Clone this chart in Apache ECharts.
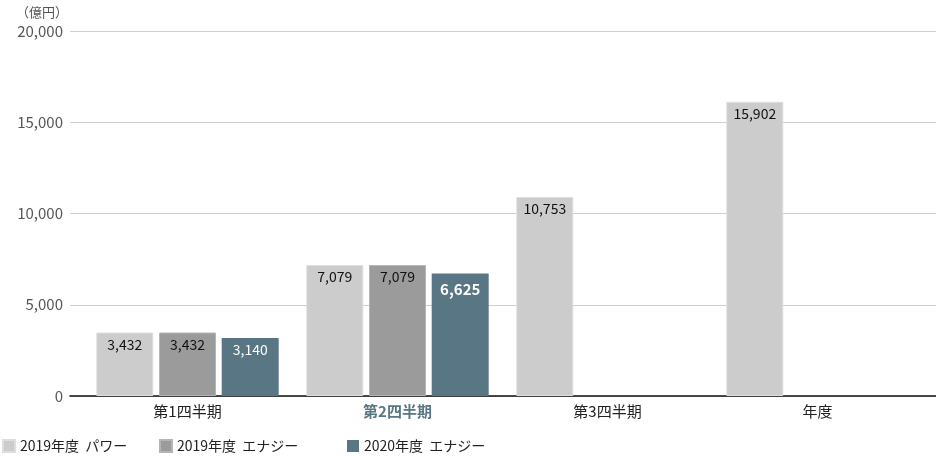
<!DOCTYPE html>
<html>
<head>
<meta charset="utf-8">
<script src="https://cdn.jsdelivr.net/npm/echarts@6/dist/echarts.min.js"></script>
<style>
  html, body { margin: 0; padding: 0; background: #fff; }
  #container { width: 936px; height: 456px; }
</style>
</head>
<body>
<div id="container"></div>
<script>
// data
var categories = ['第1四半期', '第2四半期', '第3四半期', '年度'];
var seriesNames = ['2019年度  パワー', '2019年度  エナジー', '2020年度  エナジー'];
var power2019 = [3432, 7079, 10753, 15902];
var energy2019 = [3432, 7079, null, null];
var energy2020 = [3140, 6625, null, null];
var yTicks = [0, 5000, 10000, 15000, 20000];

// colours
var colors = ['#cccccc', '#9b9b9b', '#587683'];
var highlight = '#587683';
var font = '"Noto Sans CJK JP", "Noto Sans", sans-serif';

var dom = document.getElementById('container');
var myChart = echarts.init(dom);

function fmt(v) {
    return v.toLocaleString('en-US');
}

function barLabel(color) {
    return {
        show: true,
        position: 'insideTop',
        distance: 5,
        color: color,
        fontFamily: font,
        fontSize: 14,
        formatter: function (p) { return fmt(p.value); }
    };
}

var option = {
    backgroundColor: '#fff',
    animation: false,
    title: {
        text: '（億円）',
        left: 11,
        top: 1,
        textStyle: { color: '#555', fontSize: 13, fontWeight: 'normal', fontFamily: font }
    },
    legend: [0, 1, 2].map(function (i) {
        return {
            data: [seriesNames[i]],
            left: [2, 159, 347][i],
            top: 439,
            padding: 0,
            itemWidth: 12,
            itemHeight: 12,
            itemGap: 0,
            icon: 'rect',
            textStyle: { color: '#222', fontSize: 14, fontFamily: font, padding: [1, 0, 0, 0] }
        };
    }),
    grid: [
        // background grid for the gridlines (wider than the bars)
        { left: 70, right: 0, top: 31, bottom: 60 },
        // grid holding the bars (bars in the picture sit on a slightly taller scale)
        { left: 82.5, width: 840, top: 26, bottom: 60 }
    ],
    xAxis: [
        {
            gridIndex: 0, type: 'value', min: 0, max: 1,
            axisLine: { show: true, onZero: false, lineStyle: { color: '#111', width: 1.5 } },
            axisTick: { show: false }, axisLabel: { show: false }, splitLine: { show: false }
        },
        {
            gridIndex: 1, type: 'category', data: categories,
            axisLine: { show: false }, axisTick: { show: false },
            axisLabel: {
                margin: 8,
                color: '#222',
                fontSize: 15,
                fontFamily: font,
                formatter: function (v, i) { return i === 1 ? '{hl|' + v + '}' : v; },
                rich: {
                    hl: { color: highlight, fontWeight: 'bold', fontSize: 15, fontFamily: font }
                }
            }
        }
    ],
    yAxis: [
        {
            gridIndex: 0, type: 'value', min: yTicks[0], max: yTicks[yTicks.length - 1], interval: 5000,
            axisLine: { show: false }, axisTick: { show: false },
            axisLabel: { color: '#555', fontSize: 15, fontFamily: font, margin: 7, formatter: fmt },
            splitLine: { show: true, lineStyle: { color: '#cfcfcf', width: 1 } }
        },
        {
            gridIndex: 1, type: 'value', min: yTicks[0], max: yTicks[yTicks.length - 1],
            show: false, splitLine: { show: false }
        }
    ],
    series: [
        {
            name: seriesNames[0], type: 'bar', xAxisIndex: 1, yAxisIndex: 1,
            barWidth: 57, barGap: '10%',
            itemStyle: { color: colors[0], borderColor: '#dedede', borderWidth: 1 },
            label: barLabel('#111'),
            data: power2019
        },
        {
            name: seriesNames[1], type: 'bar', xAxisIndex: 1, yAxisIndex: 1,
            barWidth: 57, barGap: '10%',
            itemStyle: { color: colors[1], borderColor: '#b5b5b5', borderWidth: 1 },
            label: barLabel('#111'),
            data: energy2019
        },
        {
            name: seriesNames[2], type: 'bar', xAxisIndex: 1, yAxisIndex: 1,
            barWidth: 57, barGap: '10%',
            itemStyle: { color: colors[2] },
            label: barLabel('#fff'),
            data: energy2020.map(function (v, i) {
                // latest quarter value is shown in bold
                return i === 1 ? { value: v, label: { fontWeight: 'bold', fontSize: 15, distance: 8 } } : v;
            })
        }
    ]
};

myChart.setOption(option, true);
</script>
</body>
</html>
